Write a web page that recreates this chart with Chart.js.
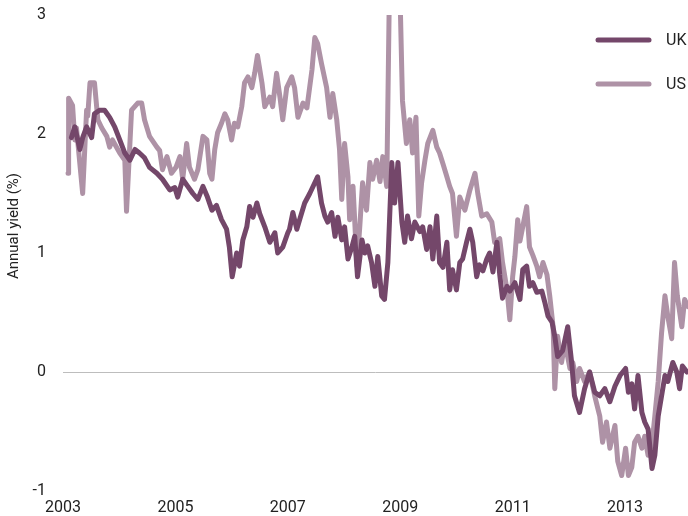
<!DOCTYPE html>
<html>
<head>
<meta charset="utf-8">
<script src="https://cdn.jsdelivr.net/npm/chart.js@4.4.0/dist/chart.umd.min.js"></script>
<style>
  html, body { margin: 0; padding: 0; background: #fff; }
  #wrap { width: 688px; height: 516px; position: relative; }
</style>
</head>
<body>
<div id="wrap"><canvas id="chart"></canvas></div>
<script>
// ====== DATA ======
const seriesNames = ["UK", "US"];
const tickYears = [2003, 2005, 2007, 2009, 2011, 2013];
const yTicks = [-1, 0, 1, 2, 3];

const ukYears = [
  2003.15, 2003.21, 2003.30, 2003.35, 2003.42, 2003.51, 2003.56, 2003.65, 2003.74, 2003.83,
  2003.92, 2004.01, 2004.10, 2004.19, 2004.28, 2004.36, 2004.45, 2004.54, 2004.67, 2004.77,
  2004.90, 2004.99, 2005.04, 2005.13, 2005.22, 2005.31, 2005.40, 2005.49, 2005.57, 2005.65,
  2005.73, 2005.82, 2005.91, 2005.96, 2006.01, 2006.09, 2006.14, 2006.20, 2006.27, 2006.32,
  2006.38, 2006.45, 2006.50, 2006.59, 2006.68, 2006.77, 2006.82, 2006.91, 2007.00, 2007.03,
  2007.09, 2007.16, 2007.21, 2007.30, 2007.39, 2007.48, 2007.53, 2007.60, 2007.66, 2007.71,
  2007.78, 2007.84, 2007.89, 2007.96, 2008.01, 2008.07, 2008.14, 2008.19, 2008.24, 2008.32,
  2008.37, 2008.42, 2008.49, 2008.55, 2008.60, 2008.67, 2008.72, 2008.78, 2008.85, 2008.90,
  2008.96, 2009.03, 2009.08, 2009.13, 2009.20, 2009.26, 2009.35, 2009.40, 2009.47, 2009.53,
  2009.58, 2009.65, 2009.70, 2009.76, 2009.83, 2009.88, 2009.93, 2010.00, 2010.06, 2010.11,
  2010.18, 2010.24, 2010.29, 2010.36, 2010.41, 2010.47, 2010.54, 2010.59, 2010.65, 2010.72,
  2010.77, 2010.82, 2010.90, 2010.95, 2011.04, 2011.13, 2011.18, 2011.25, 2011.30, 2011.36,
  2011.43, 2011.52, 2011.57, 2011.63, 2011.70, 2011.75, 2011.80, 2011.89, 2011.98, 2012.05,
  2012.10, 2012.19, 2012.28, 2012.37, 2012.46, 2012.55, 2012.64, 2012.73, 2012.82, 2012.91,
  2013.01, 2013.06, 2013.12, 2013.17, 2013.23, 2013.30, 2013.35, 2013.41, 2013.48, 2013.53,
  2013.59, 2013.65, 2013.71, 2013.76, 2013.85, 2013.92, 2013.97, 2014.02, 2014.10
];
const ukYield = [
  1.97, 2.06, 1.87, 1.97, 2.06, 1.97, 2.17, 2.20, 2.20, 2.14,
  2.06, 1.95, 1.84, 1.78, 1.87, 1.84, 1.80, 1.72, 1.67, 1.62,
  1.53, 1.55, 1.47, 1.62, 1.56, 1.50, 1.45, 1.56, 1.47, 1.36,
  1.40, 1.28, 1.20, 1.05, 0.80, 1.00, 0.89, 1.11, 1.22, 1.39,
  1.30, 1.42, 1.33, 1.22, 1.09, 1.17, 1.00, 1.05, 1.17, 1.20,
  1.34, 1.20, 1.28, 1.42, 1.50, 1.59, 1.64, 1.42, 1.31, 1.26,
  1.34, 1.14, 1.30, 1.11, 1.22, 0.95, 1.05, 1.14, 0.80, 1.11,
  1.00, 1.06, 0.92, 0.72, 0.97, 0.64, 0.61, 0.92, 1.76, 1.42,
  1.76, 1.26, 1.09, 1.31, 1.12, 1.26, 1.18, 1.22, 1.03, 1.22,
  0.95, 1.31, 0.92, 0.88, 1.09, 0.69, 0.86, 0.69, 0.92, 0.95,
  1.09, 1.20, 1.09, 0.80, 0.90, 0.85, 0.95, 1.00, 0.84, 1.09,
  0.82, 0.62, 0.72, 0.68, 0.75, 0.61, 0.86, 0.89, 0.72, 0.75,
  0.67, 0.68, 0.59, 0.47, 0.42, 0.30, 0.13, 0.18, 0.38, 0.08,
  -0.20, -0.34, -0.14, 0.00, -0.17, -0.20, -0.14, -0.25, -0.12, -0.03,
  0.03, -0.17, -0.10, -0.31, -0.03, -0.34, -0.42, -0.48, -0.81, -0.70,
  -0.37, -0.20, -0.03, -0.08, 0.08, 0.00, -0.14, 0.05, 0.00
];

const usYears = [
  2003.09, 2003.10, 2003.17, 2003.21, 2003.24, 2003.35, 2003.42, 2003.44, 2003.48, 2003.56,
  2003.62, 2003.69, 2003.78, 2003.83, 2003.88, 2004.01, 2004.10, 2004.13, 2004.22, 2004.33,
  2004.40, 2004.45, 2004.54, 2004.67, 2004.72, 2004.77, 2004.85, 2004.93, 2005.01, 2005.08,
  2005.13, 2005.20, 2005.25, 2005.34, 2005.40, 2005.49, 2005.56, 2005.61, 2005.65, 2005.70,
  2005.75, 2005.82, 2005.88, 2005.93, 2006.00, 2006.05, 2006.11, 2006.18, 2006.23, 2006.29,
  2006.36, 2006.41, 2006.46, 2006.54, 2006.59, 2006.68, 2006.73, 2006.80, 2006.86, 2006.91,
  2006.98, 2007.07, 2007.12, 2007.18, 2007.27, 2007.34, 2007.43, 2007.48, 2007.53, 2007.60,
  2007.69, 2007.75, 2007.80, 2007.87, 2007.92, 2007.96, 2008.01, 2008.07, 2008.10, 2008.16,
  2008.23, 2008.28, 2008.33, 2008.40, 2008.46, 2008.51, 2008.58, 2008.64, 2008.69, 2008.76,
  2008.81, 2008.90, 2008.99, 2009.03, 2009.04, 2009.11, 2009.17, 2009.22, 2009.28, 2009.33,
  2009.38, 2009.44, 2009.49, 2009.58, 2009.65, 2009.70, 2009.76, 2009.83, 2009.88, 2009.93,
  2010.00, 2010.06, 2010.15, 2010.24, 2010.33, 2010.38, 2010.45, 2010.54, 2010.63, 2010.68,
  2010.77, 2010.82, 2010.90, 2010.95, 2011.00, 2011.04, 2011.09, 2011.13, 2011.18, 2011.25,
  2011.30, 2011.36, 2011.43, 2011.48, 2011.54, 2011.61, 2011.66, 2011.72, 2011.75, 2011.80,
  2011.87, 2011.93, 2012.02, 2012.07, 2012.14, 2012.19, 2012.28, 2012.37, 2012.46, 2012.55,
  2012.60, 2012.67, 2012.73, 2012.82, 2012.87, 2012.94, 2013.01, 2013.06, 2013.12, 2013.17,
  2013.23, 2013.30, 2013.35, 2013.41, 2013.48, 2013.53, 2013.59, 2013.65, 2013.71, 2013.76,
  2013.83, 2013.88, 2013.93, 2014.01, 2014.06, 2014.12
];
const usYield = [
  1.67, 2.30, 2.24, 1.95, 2.05, 1.50, 2.20, 2.15, 2.43, 2.43,
  2.12, 2.05, 1.98, 1.89, 1.95, 1.84, 1.78, 1.35, 2.20, 2.26,
  2.26, 2.12, 1.98, 1.89, 1.86, 1.70, 1.81, 1.67, 1.72, 1.81,
  1.62, 1.92, 1.72, 1.62, 1.70, 1.98, 1.95, 1.67, 1.62, 1.87,
  2.01, 2.09, 2.17, 2.12, 1.95, 2.09, 2.06, 2.23, 2.43, 2.48,
  2.39, 2.51, 2.66, 2.43, 2.23, 2.31, 2.23, 2.51, 2.31, 2.12,
  2.39, 2.48, 2.39, 2.14, 2.26, 2.22, 2.54, 2.81, 2.76, 2.59,
  2.39, 2.14, 2.34, 2.12, 1.87, 1.45, 1.92, 1.64, 1.28, 1.56,
  0.89, 1.22, 1.59, 1.36, 1.76, 1.62, 1.78, 1.60, 1.81, 1.56,
  3.30, 3.40, 3.30, 2.48, 2.28, 1.92, 2.12, 1.84, 2.14, 1.31,
  1.59, 1.78, 1.92, 2.03, 1.89, 1.84, 1.75, 1.64, 1.56, 1.50,
  1.14, 1.47, 1.36, 1.53, 1.67, 1.50, 1.31, 1.33, 1.26, 1.09,
  1.12, 0.92, 0.69, 0.44, 0.80, 0.97, 1.28, 1.10, 1.22, 1.39,
  1.05, 0.98, 0.89, 0.80, 0.92, 0.82, 0.64, 0.38, -0.14, 0.30,
  0.08, 0.25, 0.03, 0.08, -0.08, 0.03, -0.08, 0.00, -0.20, -0.37,
  -0.59, -0.42, -0.64, -0.45, -0.75, -0.87, -0.64, -0.87, -0.80, -0.59,
  -0.54, -0.64, -0.54, -0.70, -0.60, -0.37, -0.08, 0.33, 0.64, 0.47,
  0.28, 0.92, 0.64, 0.38, 0.61, 0.55
];

const ukColor = "#74476a";
const usColor = "#ae92a6";
const fontFamily = "Roboto, 'Liberation Sans', sans-serif";

function toPoints(xs, ys) {
    return xs.map((x, i) => ({ x: x, y: ys[i] }));
}

// legend drawn inside the plot, top right
const legendPlugin = {
    id: "sideLegend",
    afterDraw(chart) {
        const ctx = chart.ctx;
        ctx.save();
        chart.data.datasets.forEach((ds, i) => {
            const y = 40 + i * 44;
            ctx.strokeStyle = ds.borderColor;
            ctx.lineWidth = 5;
            ctx.lineCap = "round";
            ctx.beginPath();
            ctx.moveTo(598, y);
            ctx.lineTo(649, y);
            ctx.stroke();
            ctx.fillStyle = "#222";
            ctx.font = "16px " + fontFamily;
            ctx.textBaseline = "middle";
            ctx.textAlign = "left";
            ctx.fillText(ds.label, 666, y + 1);
        });
        ctx.restore();
    }
};

// y axis title
const yTitlePlugin = {
    id: "yTitle",
    afterDraw(chart) {
        const ctx = chart.ctx;
        ctx.save();
        ctx.translate(14, 226);
        ctx.rotate(-Math.PI / 2);
        ctx.fillStyle = "#222";
        ctx.font = "15px " + fontFamily;
        ctx.textAlign = "center";
        ctx.textBaseline = "middle";
        ctx.fillText("Annual yield (%)", 0, 0);
        ctx.restore();
    }
};

const ctx = document.getElementById("chart").getContext("2d");
new Chart(ctx, {
    type: "line",
    data: {
        datasets: [
            {
                label: seriesNames[0],
                data: toPoints(ukYears, ukYield),
                borderColor: ukColor,
                borderWidth: 5,
                pointRadius: 0,
                tension: 0,
                borderJoinStyle: "round",
                borderCapStyle: "round"
            },
            {
                label: seriesNames[1],
                data: toPoints(usYears, usYield),
                borderColor: usColor,
                borderWidth: 5,
                pointRadius: 0,
                tension: 0,
                borderJoinStyle: "round",
                borderCapStyle: "round"
            }
        ]
    },
    options: {
        responsive: true,
        maintainAspectRatio: false,
        animation: false,
        layout: { padding: { top: 15, right: 0, bottom: 0, left: 0 } },
        plugins: {
            legend: { display: false },
            tooltip: { enabled: false }
        },
        scales: {
            x: {
                type: "linear",
                min: 2003,
                max: 2014.12,
                afterBuildTicks: s => { s.ticks = tickYears.map(v => ({ value: v })); },
                afterFit: s => { s.height = 25; s.paddingLeft = 0; s.paddingRight = 0; },
                grid: { display: false, drawTicks: false },
                border: { display: false },
                ticks: {
                    padding: 7,
                    color: "#222",
                    font: { family: fontFamily, size: 16 },
                    maxRotation: 0,
                    callback: v => String(v)
                }
            },
            y: {
                min: -1,
                max: 3,
                afterBuildTicks: s => { s.ticks = yTicks.map(v => ({ value: v })); },
                afterFit: s => { s.width = 63; s.paddingTop = 0; s.paddingBottom = 0; },
                grid: {
                    drawTicks: false,
                    color: c => (c.tick && c.tick.value === 0) ? "#bdbdbd" : "rgba(0,0,0,0)",
                    lineWidth: 1
                },
                border: { display: false },
                ticks: {
                    padding: 17,
                    color: "#222",
                    font: { family: fontFamily, size: 16 },
                    callback: v => String(v)
                }
            }
        }
    },
    plugins: [legendPlugin, yTitlePlugin]
});
</script>
</body>
</html>
